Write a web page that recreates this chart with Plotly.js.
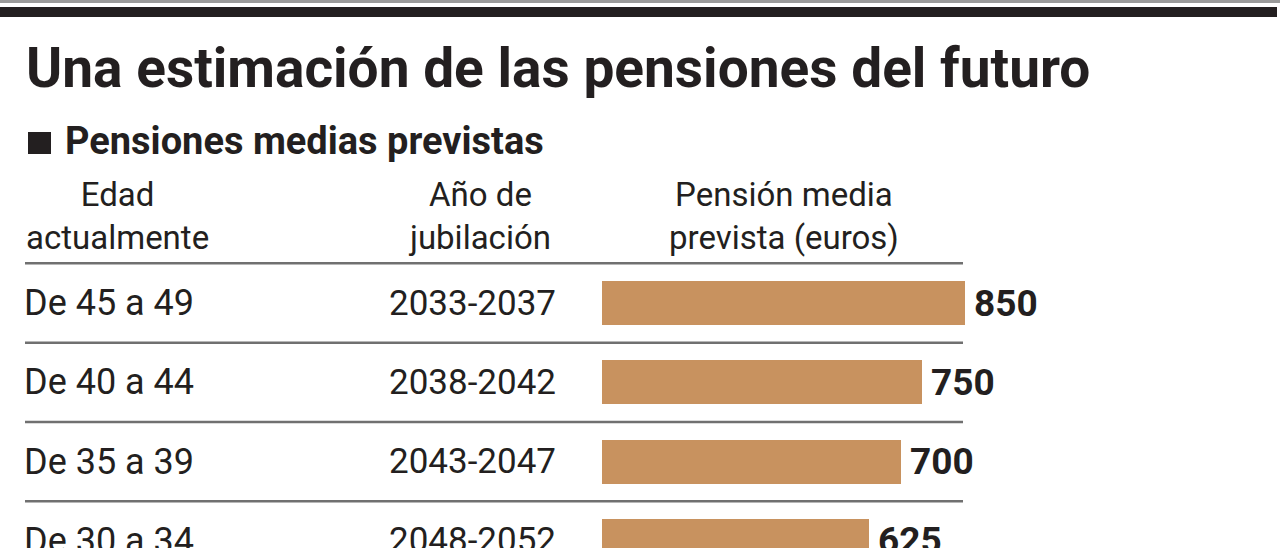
<!DOCTYPE html>
<html><head><meta charset="utf-8">
<script src="https://cdn.plot.ly/plotly-3.0.1.min.js"></script>
<style>html,body{margin:0;padding:0;background:#fff}#chart{width:1280px;height:548px}</style>
</head><body><div id="chart"></div>
<script>
// ---- data ----
const ages = ["De 45 a 49", "De 40 a 44", "De 35 a 39", "De 30 a 34"];
const years = ["2033-2037", "2038-2042", "2043-2047", "2048-2052"];
const pensions = [850, 750, 700, 625];
const titleText = "Una estimación de las pensiones del futuro";
const subtitleText = "Pensiones medias previstas";
const headers = ["Edad<br>actualmente", "Año de<br>jubilación", "Pensión media<br>prevista (euros)"];

// ---- layout helpers ----
const W = 1280, H = 548;
const px = x => x / W;
const py = y => 1 - y / H;
const FONT = "Roboto, 'Liberation Sans', sans-serif";
const TXT = "#231f20";
const BAR = "#c8925f";
const pitch = 79.3, firstCenter = 303;
const topIdx = -0.52;
const botIdx = (H - firstCenter) / pitch;
const plotTop = firstCenter + topIdx * pitch;

const trace = {
  type: "bar",
  orientation: "h",
  y: ages,
  x: pensions,
  width: 0.555,
  marker: {color: BAR, line: {width: 0}},
  hoverinfo: "skip",
  cliponaxis: true
};

const annotations = [];
ages.forEach((a, i) => {
  annotations.push({xref: "paper", yref: "y", x: px(22), y: a, text: a, showarrow: false,
    xanchor: "left", yanchor: "middle", font: {family: FONT, size: 36, color: TXT}});
  annotations.push({xref: "paper", yref: "y", x: px(387), y: a, text: years[i], showarrow: false,
    xanchor: "left", yanchor: "middle", font: {family: FONT, size: 35, color: TXT}});
  annotations.push({xref: "x", yref: "y", x: pensions[i], y: a, text: String(pensions[i]), showarrow: false,
    xanchor: "left", yanchor: "middle", xshift: 7, font: {family: FONT, size: 37, color: TXT, weight: 700}});
});
const hdrX = [117, 479, 784];
headers.forEach((h, i) => {
  annotations.push({xref: "paper", yref: "paper", x: px(hdrX[i]), y: py(259), text: h, showarrow: false,
    xanchor: "center", yanchor: "bottom", align: "center",
    font: {family: FONT, size: 33, color: TXT}});
});
annotations.push({xref: "paper", yref: "paper", x: px(63), y: py(141), text: subtitleText, showarrow: false,
  xanchor: "left", yanchor: "middle", font: {family: FONT, size: 38, color: TXT, weight: 700}});

const shapes = [
  {type: "rect", xref: "paper", yref: "paper", x0: 0, x1: 1, y0: py(0), y1: py(3),
    fillcolor: "#9a9a9a", line: {width: 0}},
  {type: "rect", xref: "paper", yref: "paper", x0: 0, x1: px(1277), y0: py(7), y1: py(17),
    fillcolor: "#231f20", line: {width: 0}},
  {type: "rect", xref: "paper", yref: "paper", x0: px(28), x1: px(51), y0: py(132), y1: py(154),
    fillcolor: "#231f20", line: {width: 0}}
];
ages.forEach((a, i) => {
  shapes.push({type: "line", xref: "paper", yref: "y", x0: px(25), x1: px(963), y0: i - 0.5, y1: i - 0.5,
    line: {color: "#707070", width: 2.5}, layer: "below"});
});

const layout = {
  width: W, height: H,
  margin: {l: 0, r: 0, t: 0, b: 0},
  paper_bgcolor: "#ffffff",
  plot_bgcolor: "rgba(0,0,0,0)",
  showlegend: false,
  title: {text: "<b>" + titleText + "</b>", x: px(26), xref: "paper", xanchor: "left",
    y: py(68), yref: "paper", yanchor: "middle",
    font: {family: FONT, size: 55, color: TXT, weight: 900}},
  xaxis: {domain: [px(602), px(1029)], range: [0, 1000], visible: false, fixedrange: true},
  yaxis: {domain: [0, py(plotTop)], type: "category", categoryorder: "array", categoryarray: ages,
    range: [botIdx, topIdx], visible: false, fixedrange: true},
  bargap: 0,
  shapes: shapes,
  annotations: annotations
};

Plotly.newPlot("chart", [trace], layout, {displayModeBar: false, staticPlot: true});
</script>
</body></html>
